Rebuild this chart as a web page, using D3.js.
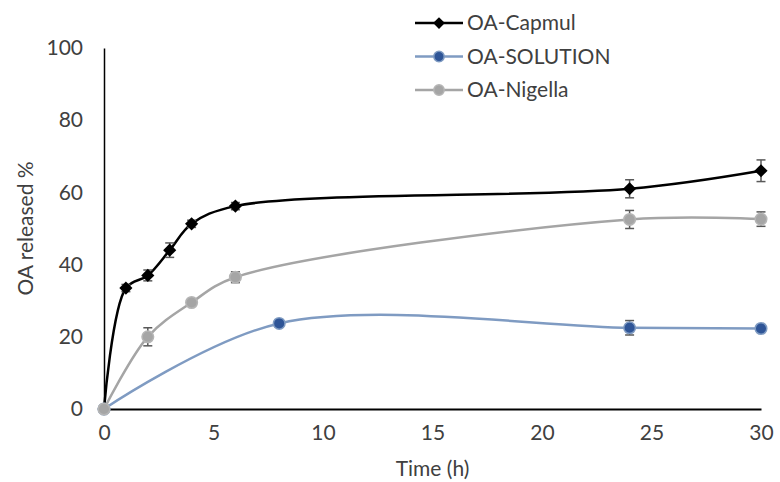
<!DOCTYPE html>
<html>
<head>
<meta charset="utf-8">
<script src="https://cdn.jsdelivr.net/npm/d3@7"></script>
<style>
  body { margin: 0; background: #fff; }
  text { font-family: Lato, "Open Sans", sans-serif; fill: #404040; }
</style>
</head>
<body>
<div id="chart"></div>
<script>
// data
var capmulTime = [0, 1, 2, 3, 4, 6, 24, 30];
var capmulValue = [0, 33.5, 37, 44, 51.3, 56.2, 61, 66];
var capmulErr = [0, 1, 1.5, 2, 1, 1, 2.5, 3];

var solutionTime = [0, 8, 24, 30];
var solutionValue = [0, 23.7, 22.5, 22.3];
var solutionErr = [0, 1, 2, 0.5];

var nigellaTime = [0, 2, 4, 6, 24, 30];
var nigellaValue = [0, 20, 29.5, 36.5, 52.5, 52.6];
var nigellaErr = [0, 2.5, 1, 1.5, 2.5, 2];

var xTicks = [0, 5, 10, 15, 20, 25, 30];
var yTicks = [0, 20, 40, 60, 80, 100];

var W = 780, H = 482;
var m = {left: 104, right: 19, top: 48, bottom: 73};
var FS = 21;

var x = d3.scaleLinear().domain([0, 30]).range([m.left, W - m.right]);
var y = d3.scaleLinear().domain([0, 100]).range([H - m.bottom, m.top]);

var svg = d3.select("#chart").append("svg")
  .attr("width", W)
  .attr("height", H);

// axes
var xAxis = d3.axisBottom(x).tickValues(xTicks).tickSize(0).tickPadding(15);
var yAxis = d3.axisLeft(y).tickValues(yTicks).tickSize(0).tickPadding(21);

var gx = svg.append("g")
  .attr("transform", "translate(0," + y(0) + ")")
  .call(xAxis);
gx.select(".domain").attr("stroke", "#000").attr("stroke-width", 2);
gx.selectAll("text").attr("font-size", FS).attr("dy", "0.75em");

var gy = svg.append("g")
  .attr("transform", "translate(" + x(0) + ",0)")
  .call(yAxis);
gy.select(".domain").attr("stroke", "#000").attr("stroke-width", 1.5);
gy.selectAll("text").attr("font-size", FS);

svg.append("text")
  .attr("x", (x(0) + x(30)) / 2)
  .attr("y", 476)
  .attr("text-anchor", "middle")
  .attr("font-size", FS)
  .text("Time (h)");

svg.append("text")
  .attr("transform", "translate(33," + y(50) + ") rotate(-90)")
  .attr("text-anchor", "middle")
  .attr("font-size", FS)
  .text("OA released %");

var series = [
  {name: "OA-Capmul", t: capmulTime, v: capmulValue, e: capmulErr,
   line: "#000000", fill: "#000000", stroke: "#000000", shape: "diamond"},
  {name: "OA-SOLUTION", t: solutionTime, v: solutionValue, e: solutionErr,
   line: "#7f9bc2", fill: "#2f5597", stroke: "#7f9bc2", shape: "circle"},
  {name: "OA-Nigella", t: nigellaTime, v: nigellaValue, e: nigellaErr,
   line: "#a5a5a5", fill: "#a5a5a5", stroke: "#b5b5b5", shape: "circle"}
];

var line = d3.line()
  .x(function(d) { return x(d[0]); })
  .y(function(d) { return y(d[1]); })
  .curve(d3.curveCatmullRom.alpha(0.5));

function marker(g, s, px, py, k) {
  if (s.shape === "diamond") {
    g.append("path")
      .attr("d", d3.symbol().type(d3.symbolDiamond2).size(110 * k)())
      .attr("transform", "translate(" + px + "," + py + ")")
      .attr("fill", s.fill);
  } else {
    g.append("circle")
      .attr("cx", px).attr("cy", py).attr("r", 5.8 * Math.sqrt(k))
      .attr("fill", s.fill)
      .attr("stroke", s.stroke)
      .attr("stroke-width", 1.5);
  }
}

series.forEach(function(s) {
  var pts = s.t.map(function(t, i) { return [t, s.v[i]]; });
  var g = svg.append("g");

  g.append("path")
    .attr("d", line(pts))
    .attr("fill", "none")
    .attr("stroke", s.line)
    .attr("stroke-width", 2.5);

  // error bars
  s.t.forEach(function(t, i) {
    if (!s.e[i]) return;
    var px = x(t), y1 = y(s.v[i] + s.e[i]), y2 = y(s.v[i] - s.e[i]);
    g.append("line").attr("x1", px).attr("x2", px).attr("y1", y1).attr("y2", y2)
      .attr("stroke", "#595959").attr("stroke-width", 1.5);
    [y1, y2].forEach(function(yy) {
      g.append("line").attr("x1", px - 4.5).attr("x2", px + 4.5).attr("y1", yy).attr("y2", yy)
        .attr("stroke", "#595959").attr("stroke-width", 1.5);
    });
  });

  pts.forEach(function(p) { marker(g, s, x(p[0]), y(p[1]), 1); });
});

// legend
var leg = svg.append("g");
series.forEach(function(s, i) {
  var ly = 23 + i * 33.5;
  leg.append("line")
    .attr("x1", 415).attr("x2", 463).attr("y1", ly).attr("y2", ly)
    .attr("stroke", s.line).attr("stroke-width", 2.5);
  marker(leg, s, 439, ly, 0.8);
  leg.append("text")
    .attr("x", 467).attr("y", ly)
    .attr("dy", "0.35em")
    .attr("font-size", FS)
    .text(s.name);
});
</script>
</body>
</html>
